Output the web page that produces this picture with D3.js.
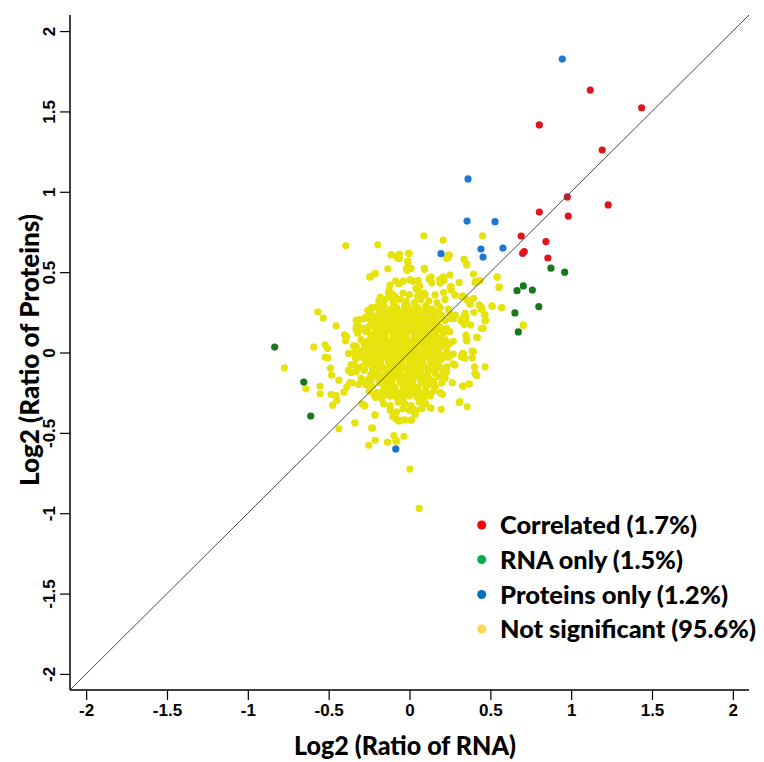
<!DOCTYPE html>
<html><head><meta charset="utf-8">
<script src="https://cdn.jsdelivr.net/npm/d3@7"></script>
<style>body{margin:0;background:#fff}</style></head>
<body><svg id="c" width="764" height="762"></svg>
<script>
const xTicks = [-2, -1.5, -1, -0.5, 0, 0.5, 1, 1.5, 2];
const xTickLabels = ["-2", "-1.5", "-1", "-0.5", "0", "0.5", "1", "1.5", "2"];
const yTicks = [-2, -1.5, -1, -0.5, 0, 0.5, 1, 1.5, 2];
const yTickLabels = ["-2", "-1.5", "-1", "-0.5", "0", "0.5", "1", "1.5", "2"];
const xTitle = "Log2 (Ratio of RNA)";
const yTitle = "Log2 (Ratio of Proteins)";
const legendLabels = ["Correlated (1.7%)", "RNA only (1.5%)", "Proteins only (1.2%)", "Not significant (95.6%)"];

const correlated = [[1.118,1.633],[1.436,1.523],[0.803,1.416],[1.192,1.26],[0.976,0.968],[1.229,0.918],[0.803,0.874],[0.982,0.849],[0.691,0.725],[0.844,0.69],[0.70,0.617],[0.71,0.628],[0.856,0.588]];
const rnaOnly = [[0.665,0.385],[0.704,0.414],[0.76,0.389],[0.80,0.285],[0.652,0.246],[0.673,0.128],[-0.834,0.034],[-0.654,-0.184],[-0.611,-0.395],[0.875,0.525],[0.96,0.50]];
const proteinsOnly = [[0.945,1.826],[0.362,1.08],[0.356,0.818],[0.529,0.814],[0.442,0.644],[0.578,0.65],[0.195,0.615],[0.455,0.594],[-0.085,-0.6]];
const notSignificant = [
[-0.13,0.37],[-0.09,0.35],[-0.04,0.37],[0.0,0.36],[0.05,0.35],[0.09,0.37],
[-0.19,0.32],[-0.15,0.33],[-0.1,0.31],[-0.06,0.33],[-0.02,0.32],[0.03,0.31],[0.07,0.33],[0.12,0.32],[0.17,0.31],[0.22,0.33],
[-0.21,0.28],[-0.16,0.29],[-0.12,0.27],[-0.08,0.28],[-0.03,0.29],[0.01,0.27],[0.05,0.28],[0.1,0.29],[0.14,0.27],[0.19,0.28],[0.24,0.27],
[-0.24,0.24],[-0.19,0.23],[-0.14,0.25],[-0.1,0.24],[-0.06,0.23],[-0.02,0.25],[0.03,0.24],[0.07,0.23],[0.11,0.25],[0.16,0.24],[0.2,0.23],[0.25,0.24],
[-0.33,0.2],[-0.28,0.21],[-0.22,0.19],[-0.17,0.2],[-0.13,0.21],[-0.09,0.19],[-0.04,0.2],[0.0,0.21],[0.04,0.19],[0.09,0.2],[0.13,0.21],[0.17,0.19],[0.22,0.2],[0.26,0.21],
[-0.33,0.16],[-0.29,0.15],[-0.24,0.17],[-0.19,0.16],[-0.15,0.15],[-0.11,0.17],[-0.07,0.16],[-0.02,0.15],[0.02,0.17],[0.06,0.16],[0.11,0.15],[0.15,0.17],[0.19,0.16],[0.23,0.15],
[-0.32,0.12],[-0.27,0.13],[-0.23,0.11],[-0.18,0.12],[-0.14,0.13],[-0.1,0.11],[-0.05,0.12],[-0.01,0.13],[0.03,0.11],[0.08,0.12],[0.12,0.13],[0.16,0.11],[0.21,0.12],[0.25,0.13],
[-0.3,0.08],[-0.26,0.07],[-0.21,0.09],[-0.17,0.08],[-0.12,0.07],[-0.08,0.09],[-0.04,0.08],[0.01,0.07],[0.05,0.09],[0.09,0.08],[0.14,0.07],[0.18,0.09],[0.22,0.08],[0.27,0.07],
[-0.33,0.04],[-0.28,0.05],[-0.24,0.03],[-0.19,0.04],[-0.15,0.05],[-0.1,0.03],[-0.06,0.04],[-0.02,0.05],[0.03,0.03],[0.07,0.04],[0.11,0.05],[0.16,0.03],[0.2,0.04],[0.24,0.05],
[-0.34,0.0],[-0.3,0.01],[-0.25,-0.01],[-0.21,0.0],[-0.16,0.01],[-0.12,-0.01],[-0.08,0.0],[-0.03,0.01],[0.01,-0.01],[0.05,0.0],[0.1,0.01],[0.14,-0.01],[0.18,0.0],[0.23,0.01],[0.27,-0.01],
[-0.33,-0.04],[-0.29,-0.03],[-0.24,-0.05],[-0.2,-0.04],[-0.15,-0.03],[-0.11,-0.05],[-0.07,-0.04],[-0.02,-0.03],[0.02,-0.05],[0.06,-0.04],[0.11,-0.03],[0.15,-0.05],[0.2,-0.04],[0.24,-0.03],
[-0.34,-0.08],[-0.3,-0.09],[-0.26,-0.07],[-0.21,-0.08],[-0.17,-0.09],[-0.12,-0.07],[-0.08,-0.08],[-0.04,-0.09],[0.01,-0.07],[0.05,-0.08],[0.09,-0.09],[0.14,-0.07],[0.18,-0.08],[0.23,-0.09],[0.27,-0.07],
[-0.33,-0.12],[-0.28,-0.11],[-0.23,-0.13],[-0.19,-0.12],[-0.14,-0.11],[-0.1,-0.13],[-0.06,-0.12],[-0.01,-0.11],[0.03,-0.13],[0.07,-0.12],[0.12,-0.11],[0.16,-0.13],[0.21,-0.12],
[-0.3,-0.16],[-0.26,-0.17],[-0.21,-0.15],[-0.17,-0.16],[-0.13,-0.17],[-0.08,-0.15],[-0.04,-0.16],[0.0,-0.17],[0.05,-0.15],[0.09,-0.16],[0.13,-0.17],[0.18,-0.15],[0.22,-0.16],
[-0.27,-0.2],[-0.23,-0.21],[-0.18,-0.19],[-0.14,-0.2],[-0.1,-0.21],[-0.05,-0.19],[-0.01,-0.2],[0.03,-0.21],[0.08,-0.19],[0.12,-0.2],[0.16,-0.21],[0.2,-0.19],
[-0.25,-0.24],[-0.2,-0.25],[-0.16,-0.23],[-0.11,-0.24],[-0.07,-0.25],[-0.03,-0.23],[0.02,-0.24],[0.06,-0.25],[0.1,-0.23],[0.15,-0.24],[0.19,-0.25],
[-0.21,-0.28],[-0.17,-0.29],[-0.12,-0.27],[-0.08,-0.28],[-0.04,-0.29],[0.0,-0.27],[0.05,-0.28],[0.09,-0.29],[0.13,-0.27],
[-0.16,-0.32],[-0.12,-0.33],[-0.07,-0.31],[-0.03,-0.32],[0.01,-0.33],[0.06,-0.31],[0.1,-0.32],
[-0.12,-0.36],[-0.08,-0.37],[-0.04,-0.35],[0.0,-0.36],[0.04,-0.37],
[-0.2,0.18],[-0.15,0.18],[-0.11,0.18],[-0.06,0.18],[-0.02,0.18],[0.02,0.18],[0.07,0.18],[0.11,0.18],
[-0.24,0.1],[-0.19,0.1],[-0.15,0.1],[-0.1,0.1],[-0.06,0.1],[-0.02,0.1],[0.03,0.1],[0.07,0.1],[0.12,0.1],[0.16,0.1],
[-0.26,0.02],[-0.22,0.02],[-0.17,0.02],[-0.13,0.02],[-0.08,0.02],[-0.04,0.02],[0.0,0.02],[0.04,0.02],[0.09,0.02],[0.13,0.02],[0.18,0.02],
[-0.27,-0.06],[-0.22,-0.06],[-0.18,-0.06],[-0.13,-0.06],[-0.09,-0.06],[-0.05,-0.06],[0.0,-0.06],[0.04,-0.06],[0.08,-0.06],[0.13,-0.06],[0.17,-0.06],
[-0.24,-0.14],[-0.19,-0.14],[-0.15,-0.14],[-0.11,-0.14],[-0.06,-0.14],[-0.02,-0.14],[0.02,-0.14],[0.07,-0.14],[0.11,-0.14],
[-0.13,-0.22],[-0.09,-0.22],[-0.04,-0.22],[0.0,-0.22],[0.05,-0.22],
[-0.17,0.26],[-0.12,0.26],[-0.08,0.26],[-0.04,0.26],[0.01,0.26],[0.05,0.26],[0.09,0.26],[0.14,0.26],[0.18,0.26],
[-0.27,0.22],[-0.2,0.22],[-0.15,0.22],[-0.11,0.22],[-0.07,0.22],[-0.02,0.22],[0.02,0.22],[0.06,0.22],[0.11,0.22],[0.15,0.22],[0.2,0.22],
[-0.31,0.14],[-0.26,0.14],[-0.21,0.14],[-0.17,0.14],[-0.12,0.14],[-0.08,0.14],[-0.04,0.14],[0.0,0.14],[0.04,0.14],[0.09,0.14],[0.13,0.14],[0.17,0.14],[0.21,0.14],
[-0.28,0.06],[-0.23,0.06],[-0.19,0.06],[-0.14,0.06],[-0.1,0.06],[-0.06,0.06],[-0.01,0.06],[0.03,0.06],[0.07,0.06],[0.12,0.06],[0.16,0.06],[0.2,0.06],[0.25,0.06],
[-0.31,-0.02],[-0.27,-0.02],[-0.22,-0.02],[-0.18,-0.02],[-0.14,-0.02],[-0.09,-0.02],[-0.05,-0.02],[-0.01,-0.02],[0.03,-0.02],[0.08,-0.02],[0.12,-0.02],[0.16,-0.02],[0.21,-0.02],[0.25,-0.02],
[-0.32,-0.1],[-0.28,-0.1],[-0.23,-0.1],[-0.19,-0.1],[-0.15,-0.1],[-0.1,-0.1],[-0.06,-0.1],[-0.02,-0.1],[0.03,-0.1],[0.07,-0.1],[0.11,-0.1],[0.16,-0.1],[0.2,-0.1],
[-0.28,-0.18],[-0.24,-0.18],[-0.19,-0.18],[-0.15,-0.18],[-0.11,-0.18],[-0.06,-0.18],[-0.02,-0.18],[0.02,-0.18],[0.07,-0.18],[0.11,-0.18],[0.15,-0.18],
[-0.22,-0.26],[-0.18,-0.26],[-0.14,-0.26],[-0.09,-0.26],[-0.05,-0.26],[-0.01,-0.26],[0.04,-0.26],[0.08,-0.26],[0.12,-0.26],
[-0.394,0.664],[-0.196,0.67],[0.089,0.726],[0.208,0.699],[0.452,0.726],
[-0.113,0.608],[-0.072,0.604],[-0.062,0.585],[-0.002,0.616],[-0.01,0.562],[-0.011,0.569],[-0.003,0.524],[-0.014,0.511],
[-0.134,0.521],[-0.241,0.471],[-0.212,0.492],[-0.02,0.522],[0.01,0.523],[0.093,0.517],
[0.134,0.471],[0.12,0.458],[0.186,0.454],[0.208,0.471],[0.239,0.591],[0.247,0.606],[0.23,0.586],
[0.338,0.579],[0.355,0.55],[0.396,0.488],[0.423,0.44],[0.406,0.434],[0.436,0.447],
[0.542,0.469],[0.553,0.405],[0.571,0.278],[0.511,0.288],[0.703,0.17],
[-0.567,0.253],[-0.534,0.214],[-0.454,0.166],[-0.592,0.033],[-0.522,0.048],[-0.507,0.025],
[-0.522,-0.03],[-0.505,-0.033],[-0.489,-0.097],[-0.482,-0.141],[-0.774,-0.095],
[-0.641,-0.226],[-0.553,-0.21],[-0.553,-0.257],[-0.485,-0.261],[-0.454,-0.268],
[-0.476,-0.328],[-0.449,-0.297],[-0.437,-0.172],[-0.406,-0.247],[-0.388,-0.214],[-0.355,-0.189],
[-0.338,-0.438],[-0.437,-0.475],[-0.293,-0.32],[-0.276,-0.332],[-0.229,-0.471],[-0.214,-0.388],
[-0.252,-0.577],[-0.212,-0.546],[-0.136,-0.558],[-0.097,-0.517],[-0.078,-0.55],[-0.035,-0.521],[-0.085,-0.551],
[-0.103,-0.4],[-0.082,-0.415],[-0.066,-0.427],[-0.049,-0.421],[-0.027,-0.419],[0.012,-0.421],
[0.039,-0.359],[0.078,-0.349],[0.13,-0.344],[0.196,-0.353],[0.307,-0.311],[0.357,-0.338],
[0.332,-0.21],[0.369,-0.195],[0.402,-0.089],[0.408,-0.131],[0.416,-0.143],[0.468,-0.089],
[0.419,0.095],[0.456,0.151],[0.464,0.232],[0.47,0.201],[0.396,0.006],[0.388,-0.033],
[0.32,-0.027],[0.334,-0.01],[0.355,0.077],[0.35,0.093],[0.338,0.174],[0.318,0.197],
[0.272,0.212],[0.283,0.232],[0.435,0.288],[0.445,0.268],[0.373,0.309],[0.396,0.336],
[0.336,0.346],[0.307,0.436],[0.252,0.405],[0.258,0.388],[0.214,0.448],
[0.19,0.432],[0.138,0.432],[0.062,0.413],[0.039,0.398],[0.056,0.371],
[-0.085,0.446],[-0.062,0.429],[-0.039,0.444],[0.004,0.454],[0.025,0.444],
[-0.126,0.39],[-0.107,0.365],[-0.122,0.346],[-0.181,0.344],[-0.196,0.284],
[-0.258,0.263],[-0.313,0.205],[-0.322,0.176],[-0.33,0.141],[-0.264,0.216],[-0.252,0.16],
[-0.402,0.11],[-0.388,0.097],[-0.396,0.073],[-0.346,0.041],[-0.377,-0.006],
[-0.361,-0.075],[-0.377,-0.11],[-0.361,-0.124],[-0.336,-0.031],[-0.369,-0.187],[-0.315,-0.199],
[0.003,-0.725],[0.06,-0.97],
[-0.234,-0.47],[-0.213,-0.389],[0.009,-0.42],[0.034,-0.385],[0.133,-0.347],[0.203,-0.26],[0.23,-0.12],[0.281,-0.078],[0.265,-0.188],[0.329,-0.208],
[0.405,-0.13],[0.37,-0.196],[0.312,-0.306],
[0.337,0.58],[0.354,0.545],[0.407,0.441],[0.541,0.47],[0.555,0.408],
[0.329,0.352],[0.357,0.327],[0.374,0.3],[0.432,0.296],[0.446,0.279],[0.51,0.291],[0.57,0.279],
[0.343,0.244],[0.349,0.223],[0.399,0.25],[0.467,0.238],[0.467,0.196],[0.446,0.15],[0.378,0.171],[0.349,0.192],[0.329,0.213],
[0.349,0.109],[0.354,0.072],[0.416,0.095],[0.387,0.009],[0.329,-0.005],[0.343,-0.036],[0.704,0.171],
[-0.114,0.607],[-0.077,0.59],[-0.061,0.613],[-0.007,0.617],[-0.246,0.47],[-0.218,0.488],[0.092,0.524],[0.24,0.607],
[-0.121,0.42],[-0.069,0.431],[0.005,0.451],[0.054,0.449],[0.127,0.462],[0.189,0.451],[0.25,0.482],[0.257,0.41],
[0.211,0.375],[0.281,0.358],[0.323,0.347],[-0.182,0.291],[-0.244,0.208],[-0.193,0.238],[-0.017,0.3],[0.096,0.358],[0.158,0.358],[-0.234,0.279]
];

const plotColors = ["#e0141c", "#17781a", "#1c76d4", "#e6e20c"];
const legendColors = ["#ff0000", "#00b050", "#0070c0", "#ffd34d"];

const svg = d3.select("#c");
const x = d3.scaleLinear().domain([-2.1, 2.1]).range([70, 749]);
const y = d3.scaleLinear().domain([-2.1, 2.1]).range([690, 15]);

const R = 3.6;
const layers = [notSignificant, rnaOnly, proteinsOnly, correlated];
const layerColors = [plotColors[3], plotColors[1], plotColors[2], plotColors[0]];
layers.forEach((pts, i) => {
  svg.append("g").selectAll("circle").data(pts).join("circle")
    .attr("cx", d => x(d[0])).attr("cy", d => y(d[1])).attr("r", R)
    .attr("fill", layerColors[i]);
});

// diagonal y = x
svg.append("line")
  .attr("x1", x(-2.1)).attr("y1", y(-2.1)).attr("x2", x(2.1)).attr("y2", y(2.1))
  .attr("stroke", "#4a4a4a").attr("stroke-width", 1);

const tickFont = "'Liberation Sans Narrow', 'Liberation Sans', Arial, sans-serif";

// x axis
const xAxis = svg.append("g").attr("transform", `translate(0,${y(-2.1)})`)
  .call(d3.axisBottom(x).tickValues(xTicks).tickSize(10).tickPadding(4)
    .tickFormat((d, i) => xTickLabels[i]));
xAxis.select(".domain").attr("d", `M${x(-2.1)},0H${x(2.1)}`).attr("stroke", "#000").attr("stroke-width", 1.5);
xAxis.selectAll(".tick line").attr("stroke", "#000").attr("stroke-width", 1.2);
xAxis.selectAll(".tick text").attr("font-family", tickFont).attr("font-weight", "bold")
  .attr("font-size", 17).attr("fill", "#000");

// y axis
const yAxis = svg.append("g").attr("transform", `translate(${x(-2.1)},0)`)
  .call(d3.axisLeft(y).tickValues(yTicks).tickSize(10).tickPadding(4)
    .tickFormat((d, i) => yTickLabels[i]));
yAxis.select(".domain").attr("d", `M0,${y(2.1)}V${y(-2.1)}`).attr("stroke", "#000").attr("stroke-width", 1.5);
yAxis.selectAll(".tick line").attr("stroke", "#000").attr("stroke-width", 1.2);
yAxis.selectAll(".tick text")
  .attr("font-family", tickFont).attr("font-weight", "bold").attr("font-size", 17).attr("fill", "#000")
  .attr("x", null).attr("dy", null)
  .attr("text-anchor", "middle")
  .attr("transform", "translate(-15,0) rotate(-90)");

const titleFont = "Lato, 'Open Sans', sans-serif";
svg.append("text").attr("x", 405).attr("y", 755)
  .attr("text-anchor", "middle").attr("font-family", titleFont).attr("font-weight", 900)
  .attr("font-size", 27).attr("fill", "#000")
  .attr("textLength", 222).attr("lengthAdjust", "spacingAndGlyphs")
  .text(xTitle);
svg.append("text").attr("transform", "translate(39,350) rotate(-90)")
  .attr("text-anchor", "middle").attr("font-family", titleFont).attr("font-weight", 900)
  .attr("font-size", 27).attr("fill", "#000")
  .attr("textLength", 272).attr("lengthAdjust", "spacingAndGlyphs")
  .text(yTitle);

// legend
const legendY = [525, 559.5, 594.5, 629];
const legendW = [197, 183, 228, 256];
const lg = svg.append("g");
legendLabels.forEach((lab, i) => {
  lg.append("circle").attr("cx", 481.7).attr("cy", legendY[i]).attr("r", 4.5).attr("fill", legendColors[i]);
  lg.append("text").attr("x", 500).attr("y", legendY[i]).attr("dy", "0.36em")
    .attr("font-family", titleFont).attr("font-weight", 900).attr("font-size", 25).attr("fill", "#000")
    .attr("textLength", legendW[i]).attr("lengthAdjust", "spacingAndGlyphs")
    .text(lab);
});
</script>
</body></html>
